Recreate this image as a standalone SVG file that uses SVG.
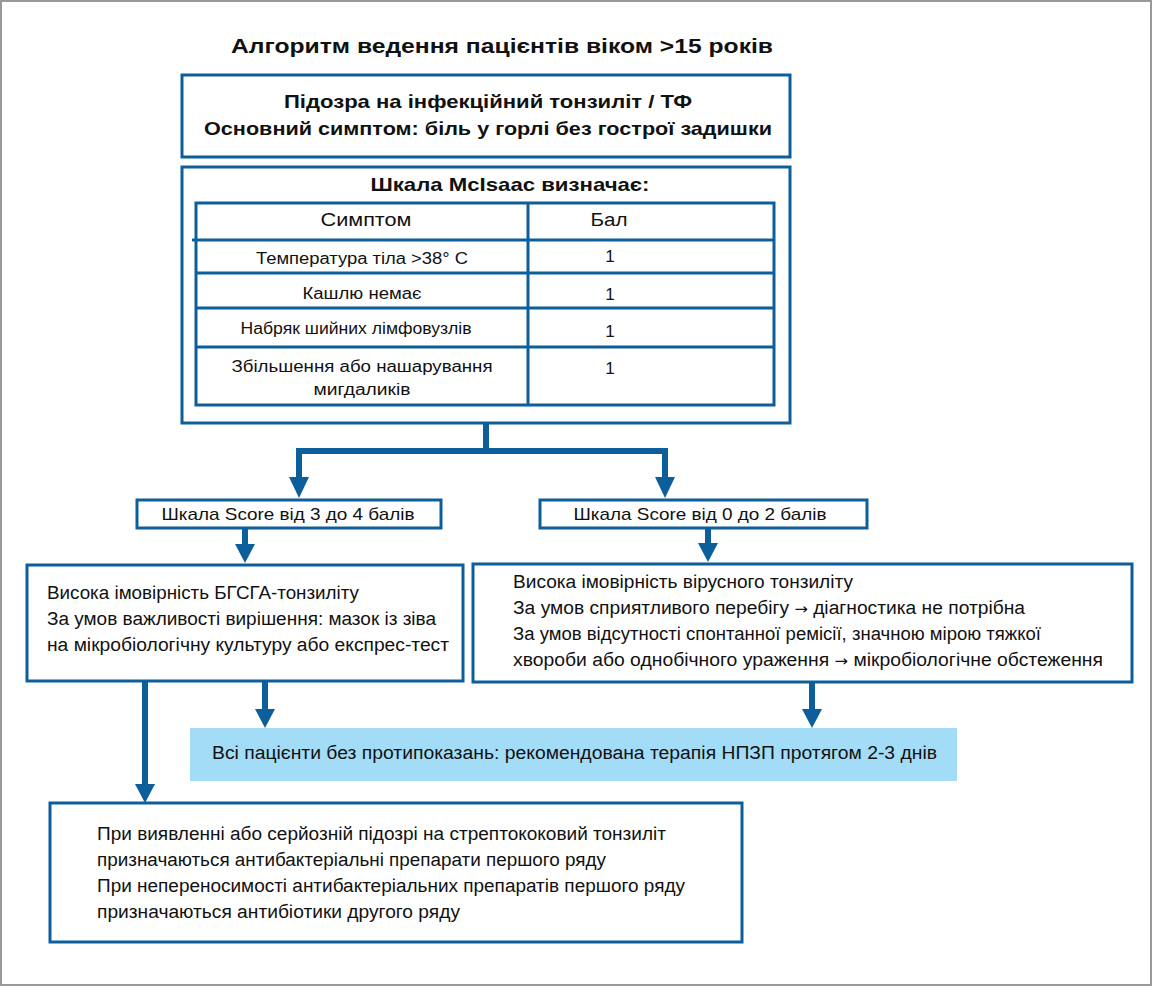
<svg xmlns="http://www.w3.org/2000/svg" width="1153" height="987" viewBox="0 0 1153 987">
<style>
.box{fill:#fff;stroke:#0d5f9c;stroke-width:3}
.tl{stroke:#0d5f9c;stroke-width:3;fill:none}
.con{stroke:#0d5f9c;stroke-width:6;fill:none;stroke-linejoin:miter}
.ah{fill:#0d5f9c}
text{font-family:"Liberation Sans",Arial,sans-serif;fill:#111}
.b{font-weight:bold}
.c{text-anchor:middle}
.t15{font-size:16px}
.t16{font-size:17px}
.t17{font-size:18px}
.one{font-size:17px}
</style>
<rect x="1" y="1" width="1150" height="984" fill="#fff" stroke="#999" stroke-width="2"/>
<g id="title">
<text x="502" y="53" class="b c" font-size="21" textLength="542" lengthAdjust="spacingAndGlyphs">Алгоритм ведення пацієнтів віком &gt;15 років</text>
</g>
<g id="n-suspicion">
<rect class="box" x="182" y="75" width="608" height="82"/>
<text x="488" y="108" class="b c" font-size="19" textLength="408" lengthAdjust="spacingAndGlyphs">Підозра на інфекційний тонзиліт / ТФ</text>
<text x="488" y="135" class="b c" font-size="19" textLength="568" lengthAdjust="spacingAndGlyphs">Основний симптом: біль у горлі без гострої задишки</text>
</g>
<g id="n-mcisaac">
<rect class="box" x="182" y="167" width="608" height="256"/>
<text x="510" y="191" class="b c" font-size="19" textLength="279" lengthAdjust="spacingAndGlyphs">Шкала McIsaac визначає:</text>
<rect class="tl" x="196" y="203" width="578" height="202"/>
<line class="tl" x1="528" y1="203" x2="528" y2="405"/>
<line class="tl" x1="192" y1="240" x2="774" y2="240"/>
<line class="tl" x1="196" y1="273" x2="774" y2="273"/>
<line class="tl" x1="196" y1="308" x2="774" y2="308"/>
<line class="tl" x1="196" y1="347" x2="774" y2="347"/>
<text x="366" y="226" class="c" font-size="18" textLength="91" lengthAdjust="spacingAndGlyphs">Симптом</text>
<text x="609" y="226" class="c" font-size="18" textLength="37" lengthAdjust="spacingAndGlyphs">Бал</text>
<text x="362" y="264" class="c t15" textLength="212" lengthAdjust="spacingAndGlyphs">Температура тіла &gt;38° C</text>
<text x="362" y="299" class="c t15" textLength="119" lengthAdjust="spacingAndGlyphs">Кашлю немає</text>
<text x="356" y="334" class="c t15" textLength="231" lengthAdjust="spacingAndGlyphs">Набряк шийних лімфовузлів</text>
<text x="362" y="372" class="c t15" textLength="261" lengthAdjust="spacingAndGlyphs">Збільшення або нашарування</text>
<text x="362" y="395" class="c t15" textLength="97" lengthAdjust="spacingAndGlyphs">мигдаликів</text>
<text x="610" y="262" class="c one">1</text>
<text x="610" y="300" class="c one">1</text>
<text x="610" y="337" class="c one">1</text>
<text x="610" y="374" class="c one">1</text>
</g>
<g id="n-score34">
<rect class="box" x="137" y="500" width="304" height="28"/>
<text x="288" y="520" class="c t16" textLength="253" lengthAdjust="spacingAndGlyphs">Шкала Score від 3 до 4 балів</text>
</g>
<g id="n-score02">
<rect class="box" x="540" y="500" width="327" height="28"/>
<text x="700" y="520" class="c t16" textLength="253" lengthAdjust="spacingAndGlyphs">Шкала Score від 0 до 2 балів</text>
</g>
<g id="n-bacterial">
<rect class="box" x="27" y="565" width="436" height="116"/>
<text x="47" y="599" class="t17" textLength="312" lengthAdjust="spacingAndGlyphs">Висока імовірність БГСГА-тонзиліту</text>
<text x="47" y="625" class="t17" textLength="389" lengthAdjust="spacingAndGlyphs">За умов важливості вирішення: мазок із зіва</text>
<text x="47" y="651" class="t17" textLength="402" lengthAdjust="spacingAndGlyphs">на мікробіологічну культуру або експрес-тест</text>
</g>
<g id="n-viral">
<rect class="box" x="473" y="564" width="659" height="118"/>
<text x="513" y="588" class="t17" textLength="340" lengthAdjust="spacingAndGlyphs">Висока імовірність вірусного тонзиліту</text>
<text x="513" y="614" class="t17" textLength="512" lengthAdjust="spacingAndGlyphs">За умов сприятливого перебігу <tspan font-family="DejaVu Sans" font-size="15">→</tspan> діагностика не потрібна</text>
<text x="513" y="640" class="t17" textLength="528" lengthAdjust="spacingAndGlyphs">За умов відсутності спонтанної ремісії, значною мірою тяжкої</text>
<text x="513" y="666" class="t17" textLength="590" lengthAdjust="spacingAndGlyphs">хвороби або однобічного ураження <tspan font-family="DejaVu Sans" font-size="15">→</tspan> мікробіологічне обстеження</text>
</g>
<g id="n-nsaid">
<rect x="190" y="728" width="767" height="53" fill="#a3dcf7"/>
<text x="212" y="759" class="t17" textLength="725" lengthAdjust="spacingAndGlyphs">Всі пацієнти без протипоказань: рекомендована терапія НПЗП протягом 2-3 днів</text>
</g>
<g id="n-antibiotics">
<rect class="box" x="50" y="803" width="692" height="139"/>
<text x="97" y="840" class="t17" textLength="569" lengthAdjust="spacingAndGlyphs">При виявленні або серйозній підозрі на стрептококовий тонзиліт</text>
<text x="97" y="866" class="t17" textLength="509" lengthAdjust="spacingAndGlyphs">призначаються антибактеріальні препарати першого ряду</text>
<text x="97" y="892" class="t17" textLength="588" lengthAdjust="spacingAndGlyphs">При непереносимості антибактеріальних препаратів першого ряду</text>
<text x="97" y="918" class="t17" textLength="363" lengthAdjust="spacingAndGlyphs">призначаються антибіотики другого ряду</text>
</g>
<g id="connectors">
<path class="con" d="M486,424 V451"/>
<path class="con" d="M299,479 V451 H665 V479"/>
<polygon class="ah" points="289,477 309,477 299,498"/>
<polygon class="ah" points="655,477 675,477 665,498"/>
<path class="con" d="M245,529 V546"/>
<polygon class="ah" points="235,544 255,544 245,563"/>
<path class="con" d="M708,529 V545"/>
<polygon class="ah" points="698,543 718,543 708,562"/>
<path class="con" d="M265,682 V711"/>
<polygon class="ah" points="255,709 275,709 265,728"/>
<path class="con" d="M812,683 V711"/>
<polygon class="ah" points="802,709 822,709 812,728"/>
<path class="con" d="M145,682 V786"/>
<polygon class="ah" points="135,784 155,784 145,803"/>
</g>
</svg>
